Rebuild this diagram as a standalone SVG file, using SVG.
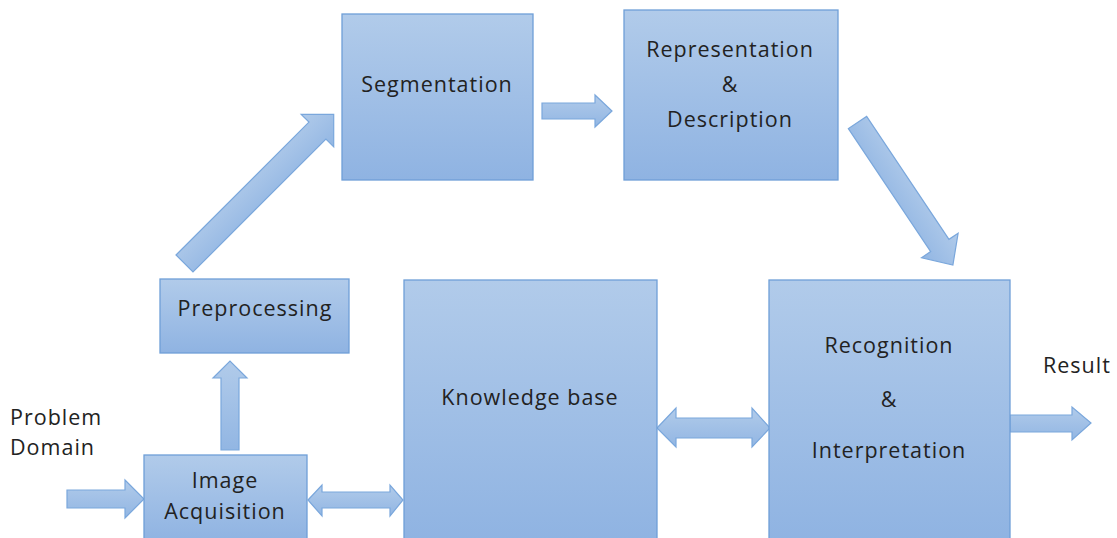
<svg xmlns="http://www.w3.org/2000/svg" width="1117" height="538" viewBox="0 0 1117 538">
  <defs>
    <linearGradient id="boxFill" x1="0" y1="0" x2="0" y2="1">
      <stop offset="0" stop-color="#b1cbea"/>
      <stop offset="1" stop-color="#8fb3e2"/>
    </linearGradient>
    <linearGradient id="arrowFill" x1="0" y1="0" x2="0" y2="1">
      <stop offset="0" stop-color="#b1cbea"/>
      <stop offset="1" stop-color="#92b6e3"/>
    </linearGradient>
  </defs>
  <style>
    .box { fill: url(#boxFill); stroke: #6f9fd8; stroke-width: 1.3; }
    .arrow { fill: url(#arrowFill); stroke: #7aa7dc; stroke-width: 1.2; stroke-linejoin: miter; }
    .label { font-family: "Open Sans", "Liberation Sans", sans-serif; font-size: 21.5px; letter-spacing: 1px; fill: #222222; }
    .mid { text-anchor: middle; }
  </style>

  <!-- connectors: block arrows between stages -->
  <g id="connectors">
    <!-- problem domain into acquisition -->
    <path class="arrow" d="M67,490 L125,490 L125,480 L144,499 L125,518 L125,508 L67,508 Z"/>
    <!-- acquisition up to preprocessing -->
    <path class="arrow" d="M221,450 L221,378 L213,378 L230,361 L247,378 L239,378 L239,450 Z"/>
    <!-- preprocessing to segmentation (diagonal) -->
    <path class="arrow" transform="translate(184.5,263.5) rotate(-45)" d="M0,-12 L188,-12 L188,-23 L211,0 L188,23 L188,12 L0,12 Z"/>
    <!-- segmentation to representation -->
    <path class="arrow" d="M542,103 L595,103 L595,95 L612,111 L595,127 L595,119 L542,119 Z"/>
    <!-- representation down to recognition (diagonal) -->
    <path class="arrow" transform="translate(857.5,122.5) rotate(56.2)" d="M0,-11 L148,-11 L148,-22 L171.5,0 L148,22 L148,11 L0,11 Z"/>
    <!-- acquisition <-> knowledge base -->
    <path class="arrow" d="M308,500 L322,485 L322,492 L390,492 L390,485 L403,500 L390,516 L390,508 L322,508 L322,516 Z"/>
    <!-- knowledge base <-> recognition -->
    <path class="arrow" d="M657,428 L676,408 L676,418 L752,418 L752,408 L770,428 L752,447 L752,438 L676,438 L676,447 Z"/>
    <!-- result out -->
    <path class="arrow" d="M1010,415 L1072,415 L1072,407 L1091,423 L1072,440 L1072,432 L1010,432 Z"/>
  </g>

  <g id="segmentation">
    <rect class="box" x="342" y="14" width="191" height="166"/>
    <text class="label mid" x="437" y="92">Segmentation</text>
  </g>

  <g id="representation">
    <rect class="box" x="624" y="10" width="214" height="170"/>
    <text class="label mid" x="730" y="57">Representation</text>
    <text class="label mid" x="730" y="92">&amp;</text>
    <text class="label mid" x="730" y="127">Description</text>
  </g>

  <g id="preprocessing">
    <rect class="box" x="160" y="279" width="189" height="74"/>
    <text class="label mid" x="255" y="316">Preprocessing</text>
  </g>

  <g id="knowledge-base">
    <rect class="box" x="404" y="280" width="253" height="262"/>
    <text class="label mid" x="530" y="405">Knowledge base</text>
  </g>

  <g id="recognition">
    <rect class="box" x="769" y="280" width="241" height="262"/>
    <text class="label mid" x="889" y="353">Recognition</text>
    <text class="label mid" x="889" y="407">&amp;</text>
    <text class="label mid" x="889" y="458">Interpretation</text>
  </g>

  <g id="image-acquisition">
    <rect class="box" x="144" y="455" width="163" height="87"/>
    <text class="label mid" x="225" y="488">Image</text>
    <text class="label mid" x="225" y="519">Acquisition</text>
  </g>

  <g id="problem-domain">
    <text class="label" x="10" y="425">Problem</text>
    <text class="label" x="10" y="455">Domain</text>
  </g>

  <g id="result">
    <text class="label" x="1043" y="373">Result</text>
  </g>
</svg>
